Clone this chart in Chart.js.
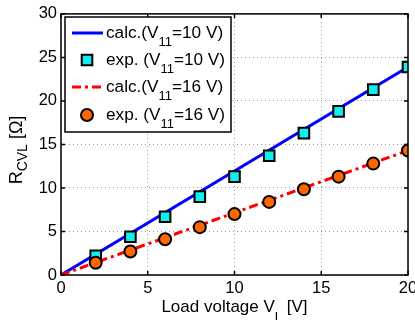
<!DOCTYPE html>
<html>
<head>
<meta charset="utf-8">
<script src="https://cdn.jsdelivr.net/npm/chart.js@4"></script>
<style>
  html, body { margin: 0; padding: 0; background: #fff; }
  canvas { display: block; }
</style>
</head>
<body>
<canvas id="chart" width="415" height="320"></canvas>
<script>
// data
const loadVoltage = [2, 4, 6, 8, 10, 12, 14, 16, 18, 20];
const expR10 = [2.2, 4.4, 6.7, 9.0, 11.3, 13.7, 16.3, 18.8, 21.3, 23.9];
const expR16 = [1.4, 2.7, 4.1, 5.5, 7.0, 8.4, 9.85, 11.3, 12.8, 14.3];
const calcV = [0, 20];
const calcR10 = [0, 23.9];
const calcR16 = [0, 14.3];
const xTicks = [0, 5, 10, 15, 20];
const yTicks = [0, 5, 10, 15, 20, 25, 30];
const legendLabels = [
  ['calc.(V', '11', '=10 V)'],
  ['exp. (V', '11', '=10 V)'],
  ['calc.(V', '11', '=16 V)'],
  ['exp. (V', '11', '=16 V)']
];

const FONT = '"Liberation Sans", Arial, Helvetica, sans-serif';
const CYAN = '#11eeee';
const ORANGE = '#ff6600';

const pts = (xs, ys) => xs.map((x, i) => ({ x: x, y: ys[i] }));

// text with subscripts: parts alternates normal / sub
function richWidth(ctx, parts, size, subSize) {
  let w = 0;
  parts.forEach((p, i) => {
    ctx.font = (i % 2 ? subSize : size) + 'px ' + FONT;
    w += ctx.measureText(p).width;
  });
  return w;
}
function drawRich(ctx, parts, x, y, size, subSize, subShift) {
  parts.forEach((p, i) => {
    const sub = i % 2 === 1;
    ctx.font = (sub ? subSize : size) + 'px ' + FONT;
    ctx.fillText(p, x, sub ? y + subShift : y);
    x += ctx.measureText(p).width;
  });
}

const decorations = {
  id: 'decorations',
  afterDraw(chart) {
    const ctx = chart.ctx;
    const a = chart.chartArea;
    const xs = chart.scales.x, ys = chart.scales.y;
    ctx.save();
    ctx.strokeStyle = '#000';
    ctx.lineWidth = 1.5;
    ctx.setLineDash([]);
    // inward tick marks on all sides
    ctx.beginPath();
    xTicks.forEach(v => {
      const px = xs.getPixelForValue(v);
      ctx.moveTo(px, a.bottom); ctx.lineTo(px, a.bottom - 4);
      ctx.moveTo(px, a.top); ctx.lineTo(px, a.top + 4);
    });
    yTicks.forEach(v => {
      const py = ys.getPixelForValue(v);
      ctx.moveTo(a.left, py); ctx.lineTo(a.left + 4, py);
      ctx.moveTo(a.right, py); ctx.lineTo(a.right - 4, py);
    });
    ctx.stroke();
    ctx.strokeRect(a.left, a.top, a.right - a.left, a.bottom - a.top);

    ctx.fillStyle = '#000';
    ctx.textBaseline = 'alphabetic';
    ctx.textAlign = 'left';
    // x title
    const xt = ['Load voltage V', 'L', ' [V]'];
    const xw = richWidth(ctx, xt, 17, 13);
    drawRich(ctx, xt, (a.left + a.right) / 2 - xw / 2, 312, 17, 13, 9);
    // y title
    const yt = ['R', 'CVL', ' [\u03A9]'];
    const yw = richWidth(ctx, yt, 18, 14);
    ctx.save();
    ctx.translate(22, 150);
    ctx.rotate(-Math.PI / 2);
    drawRich(ctx, yt, -yw / 2, 0, 18, 14, 5);
    ctx.restore();

    // legend
    ctx.fillStyle = '#fff';
    ctx.fillRect(65, 17, 166, 115);
    ctx.lineWidth = 1.5;
    ctx.strokeRect(65, 17, 166, 115);
    const rows = [38, 65, 92, 120];
    const ds = chart.data.datasets;
    const order = [3, 1, 2, 0]; // dataset for each legend row
    rows.forEach((y, r) => {
      const d = ds[order[r]];
      const cy = y - 5;
      if (d.showLine !== false) {
        ctx.beginPath();
        ctx.strokeStyle = d.borderColor;
        ctx.lineWidth = d.borderWidth;
        ctx.setLineDash(d.borderDash || []);
        ctx.moveTo(72, cy); ctx.lineTo(103, cy);
        ctx.stroke();
        ctx.setLineDash([]);
      } else {
        ctx.fillStyle = d.backgroundColor;
        ctx.strokeStyle = d.borderColor;
        ctx.lineWidth = d.borderWidth;
        ctx.beginPath();
        if (d.pointStyle === 'rect') {
          const s = Math.SQRT1_2 * d.pointRadius;
          ctx.rect(87 - s, cy - s, 2 * s, 2 * s);
        } else {
          ctx.arc(87, cy, d.pointRadius, 0, Math.PI * 2);
        }
        ctx.fill(); ctx.stroke();
      }
      ctx.fillStyle = '#000';
      drawRich(ctx, legendLabels[r], 106, y, 17.2, 13, 8);
    });
    ctx.restore();
  }
};

new Chart(document.getElementById('chart'), {
  type: 'scatter',
  data: {
    datasets: [
      {
        label: 'exp. 16 V', data: pts(loadVoltage, expR16), showLine: false,
        pointStyle: 'circle', pointRadius: 6, borderWidth: 2,
        backgroundColor: ORANGE, borderColor: '#000', order: 0
      },
      {
        label: 'exp. 10 V', data: pts(loadVoltage, expR10), showLine: false,
        pointStyle: 'rect', pointRadius: 7.5, borderWidth: 2,
        backgroundColor: CYAN, borderColor: '#000', order: 1
      },
      {
        label: 'calc. 16 V', data: pts(calcV, calcR16), showLine: true,
        borderColor: '#ff0000', borderWidth: 3, borderDash: [9, 4, 3, 4],
        pointRadius: 0, order: 2
      },
      {
        label: 'calc. 10 V', data: pts(calcV, calcR10), showLine: true,
        borderColor: '#0000ff', borderWidth: 3, pointRadius: 0, order: 3
      }
    ]
  },
  options: {
    responsive: false,
    animation: false,
    devicePixelRatio: 1,
    layout: { padding: { top: 13, right: 7, left: 0, bottom: 0 }, autoPadding: false },
    plugins: { legend: { display: false }, tooltip: { enabled: false } },
    scales: {
      x: {
        type: 'linear', min: 0, max: 20,
        afterBuildTicks: s => { s.ticks = xTicks.map(v => ({ value: v })); },
        afterFit: s => { s.height = 45; s.paddingLeft = 0; s.paddingRight = 0; },
        ticks: { color: '#000', font: { family: FONT, size: 16.5 }, padding: 4, maxRotation: 0 },
        grid: { color: '#999', lineWidth: 1, drawTicks: false },
        border: { display: false, dash: [1, 3] }
      },
      y: {
        type: 'linear', min: 0, max: 30,
        afterBuildTicks: s => { s.ticks = yTicks.map(v => ({ value: v })); },
        afterFit: s => { s.width = 61; },
        ticks: { color: '#000', font: { family: FONT, size: 16.5 }, padding: 4 },
        grid: { color: '#999', lineWidth: 1, drawTicks: false },
        border: { display: false, dash: [1, 3] }
      }
    }
  },
  plugins: [decorations]
});
</script>
</body>
</html>
